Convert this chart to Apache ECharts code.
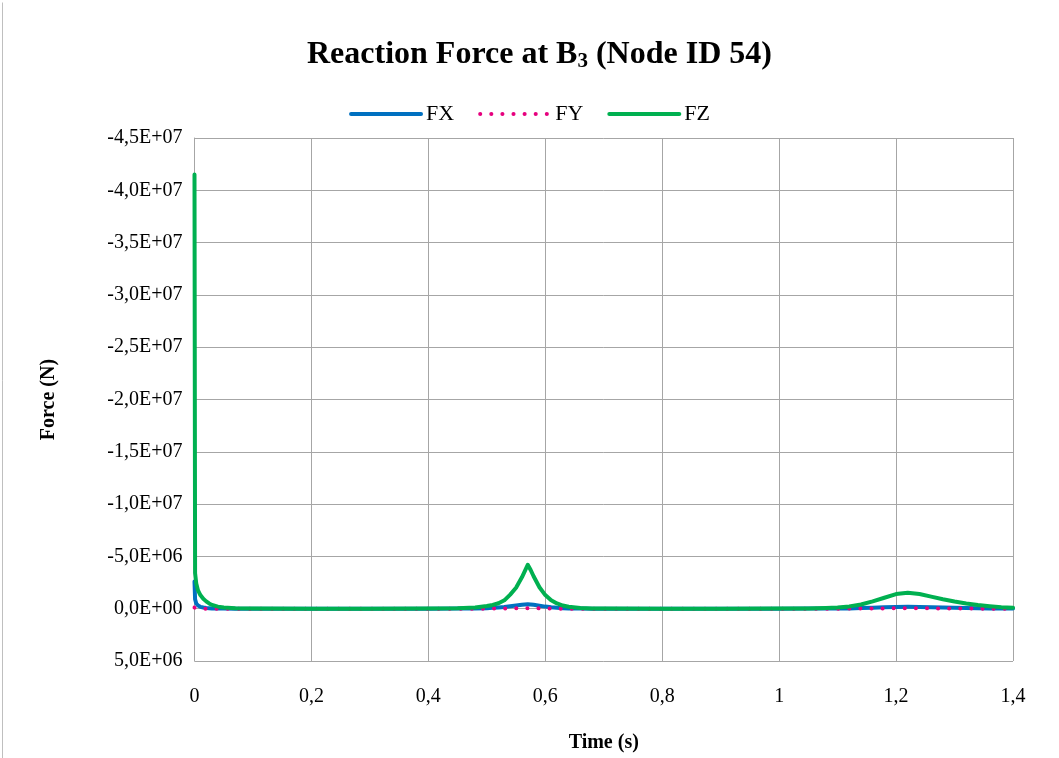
<!DOCTYPE html>
<html>
<head>
<meta charset="utf-8">
<script src="https://cdn.jsdelivr.net/npm/echarts@6/dist/echarts.min.js"></script>
<style>
  html, body { margin: 0; padding: 0; background: #fff; overflow: hidden; }
  #chart { width: 1059px; height: 758px; }
</style>
</head>
<body>
<div id="chart"></div>
<script>
// Time samples (s)
const times = [0, 0.001, 0.003, 0.006, 0.01, 0.015, 0.02, 0.025, 0.03, 0.04, 0.05, 0.07, 0.1, 0.2, 0.3, 0.4,
  0.45, 0.48, 0.5, 0.51, 0.52, 0.53, 0.54, 0.55, 0.56, 0.565, 0.57, 0.575, 0.58, 0.59, 0.6, 0.61, 0.62, 0.63,
  0.64, 0.66, 0.68, 0.7, 0.8, 0.9, 1.0, 1.05, 1.08, 1.1, 1.12, 1.14, 1.16, 1.18, 1.2, 1.22, 1.24, 1.26, 1.28,
  1.3, 1.32, 1.34, 1.36, 1.38, 1.4];

// Reaction force components (N)
const fx = [-2.6e6, -9.0e5, -5.0e5, -3.0e5, -1.8e5, -1.1e5, -7.0e4, -5.0e4, -3.0e4, -2.0e4, -1.0e4, 0, 0, 0, 0, 0,
  -1.0e4, -2.0e4, -5.0e4, -8.0e4, -1.2e5, -1.7e5, -2.4e5, -3.1e5, -3.8e5, -4.1e5, -4.3e5, -4.1e5, -3.7e5, -2.9e5, -2.0e5, -1.3e5, -8.0e4, -5.0e4,
  -3.0e4, -1.0e4, 0, 0, 0, 0, 0, -1.0e4, -1.0e4, -2.0e4, -3.0e4, -6.0e4, -1.0e5, -1.4e5, -1.7e5, -1.8e5, -1.7e5, -1.4e5, -1.1e5,
  -8.0e4, -6.0e4, -4.0e4, -3.0e4, -2.0e4, -1.0e4];

const fy = [-1.0e5, -3.0e4, -1.0e4, 0, 0, 0, 0, 0, 0, 0, 0, 0, 0, 0, 0, 0,
  0, 0, -1.0e4, -1.0e4, -2.0e4, -2.0e4, -3.0e4, -4.0e4, -5.0e4, -5.0e4, -5.0e4, -5.0e4, -4.0e4, -3.0e4, -2.0e4, -1.0e4, -1.0e4, 0,
  0, 0, 0, 0, 0, 0, 0, 0, 0, 0, -1.0e4, -1.0e4, -2.0e4, -3.0e4, -4.0e4, -4.0e4, -4.0e4, -3.0e4, -2.0e4,
  -2.0e4, -1.0e4, -1.0e4, 0, 0, 0];

const fz = [-4.15e7, -3.4e6, -2.4e6, -1.75e6, -1.3e6, -9.5e5, -7.0e5, -5.0e5, -3.6e5, -2.0e5, -1.1e5, -4.0e4, -1.0e4, 0, 0, -1.0e4,
  -4.0e4, -1.2e5, -2.5e5, -3.6e5, -5.2e5, -8.0e5, -1.35e6, -2.0e6, -3.0e6, -3.6e6, -4.2e6, -3.7e6, -3.1e6, -2.05e6, -1.3e6, -8.0e5, -5.0e5, -3.0e5,
  -1.8e5, -7.0e4, -3.0e4, -1.0e4, 0, 0, -1.0e4, -3.0e4, -7.0e4, -1.2e5, -2.2e5, -4.0e5, -7.0e5, -1.05e6, -1.4e6, -1.52e6, -1.4e6, -1.15e6, -9.0e5,
  -6.8e5, -5.0e5, -3.5e5, -2.4e5, -1.5e5, -1.0e5];

const seriesNames = ['FX', 'FY', 'FZ'];
const seriesColors = ['#0070C0', '#E6007E', '#00B050'];

// Axis tick settings
const yMin = -4.5e7, yMax = 5e6, yStep = 5e6;
const xMin = 0, xMax = 1.4, xStep = 0.2;

const serif = '"Liberation Serif", "Times New Roman", serif';

function sciComma(v) {
  if (v === 0) return '0,0E+00';
  const sign = v < 0 ? '-' : '';
  const a = Math.abs(v);
  let e = Math.floor(Math.log10(a) + 1e-9);
  let m = a / Math.pow(10, e);
  if (+m.toFixed(1) >= 10) { m /= 10; e += 1; }
  return sign + m.toFixed(1).replace('.', ',') + 'E' + (e < 0 ? '-' : '+') + String(Math.abs(e)).padStart(2, '0');
}

function pairs(vals) { return times.map((t, i) => [t, vals[i]]); }

const chart = echarts.init(document.getElementById('chart'), null, { renderer: 'canvas' });

chart.setOption({
  backgroundColor: '#fff',
  animation: false,
  title: {
    text: '{b|Reaction Force at B}{s|3}{b| (Node ID 54)}',
    left: 302,
    top: 32,
    textStyle: {
      rich: {
        b: { fontFamily: serif, fontWeight: 'bold', fontSize: 32, color: '#000' },
        s: { fontFamily: serif, fontWeight: 'bold', fontSize: 21, color: '#000', verticalAlign: 'bottom', padding: [14, 0, 0, 0] }
      }
    }
  },
  legend: {
    top: 98,
    left: 'center',
    itemWidth: 70,
    itemHeight: 14,
    itemGap: 24,
    textStyle: { fontFamily: serif, fontSize: 22, color: '#000' },
    itemStyle: { opacity: 0 },
    lineStyle: { width: 'inherit' },
    data: seriesNames
  },
  graphic: [{
    type: 'line', left: 0, top: 0,
    shape: { x1: 0.5, y1: 0, x2: 0.5, y2: 758 },
    style: { stroke: '#BFBFBF', lineWidth: 1 }
  }],
  grid: { left: 194.5, top: 138, width: 818.5, height: 524, containLabel: false },
  xAxis: {
    type: 'value',
    min: xMin, max: xMax, interval: xStep,
    name: 'Time (s)',
    nameLocation: 'middle',
    nameGap: 72,
    nameTextStyle: { fontFamily: serif, fontWeight: 'bold', fontSize: 20, color: '#000' },
    axisLine: { show: true, lineStyle: { color: '#A6A6A6', width: 1 } },
    axisTick: { show: false },
    axisLabel: {
      margin: 26,
      fontFamily: serif, fontSize: 20, color: '#000',
      formatter: v => String(+v.toFixed(1)).replace('.', ',')
    },
    splitLine: { show: true, lineStyle: { color: '#A6A6A6', width: 1 } }
  },
  yAxis: {
    type: 'value',
    inverse: true,
    min: yMin, max: yMax, interval: yStep,
    name: 'Force (N)',
    nameLocation: 'middle',
    nameGap: 136,
    nameRotate: 90,
    nameTextStyle: { fontFamily: serif, fontWeight: 'bold', fontSize: 20, color: '#000' },
    axisLine: { show: true, lineStyle: { color: '#A6A6A6', width: 1 } },
    axisTick: { show: false },
    axisLabel: { margin: 12, fontFamily: serif, fontSize: 20, color: '#000', formatter: sciComma },
    splitLine: { show: true, lineStyle: { color: '#A6A6A6', width: 1 } }
  },
  series: [
    {
      name: 'FX', type: 'line', data: pairs(fx), symbol: 'none', z: 2,
      lineStyle: { color: seriesColors[0], width: 4, cap: 'round', join: 'round' },
      itemStyle: { color: seriesColors[0] }
    },
    {
      name: 'FY', type: 'line', data: pairs(fy), symbol: 'none', z: 3,
      lineStyle: { color: seriesColors[1], width: 4, type: [0.1, 11], cap: 'round' },
      itemStyle: { color: seriesColors[1] }
    },
    {
      name: 'FZ', type: 'line', data: pairs(fz), symbol: 'none', z: 4,
      lineStyle: { color: seriesColors[2], width: 4, cap: 'round', join: 'round' },
      itemStyle: { color: seriesColors[2] }
    }
  ]
});
</script>
</body>
</html>
